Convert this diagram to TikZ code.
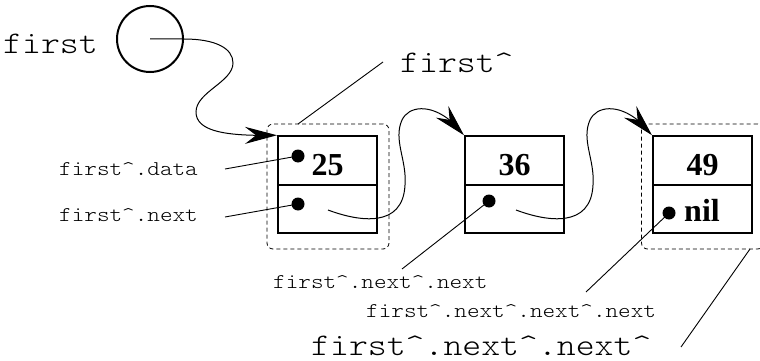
\documentclass[tikz,border=0pt]{standalone}
\usepackage{fontspec}
\setmainfont{Liberation Serif}
\newfontfamily\monofnt[FakeStretch=1.143]{Latin Modern Mono Light}
\newcommand{\crt}{\textasciicircum}
\usetikzlibrary{arrows.meta,bending}
\begin{document}
\begin{tikzpicture}[x=1pt,y=-1pt,
  cell/.style={draw, line width=2pt, minimum width=99pt, minimum height=48.5pt, inner sep=0pt},
  grp/.style={draw, dash pattern=on 4pt off 3pt, line width=0.8pt, rounded corners=6pt, minimum width=122pt, minimum height=125pt, inner sep=0pt},
  num/.style={font=\bfseries\fontsize{32}{32}\selectfont, anchor=base, inner sep=0pt},
  dot/.style={circle, fill=black, inner sep=0pt, minimum size=13pt},
  lab/.style={font=\monofnt\fontsize{21}{21}\selectfont, anchor=base west, inner sep=0pt},
  biglab/.style={font=\monofnt\fontsize{31.5}{31.5}\selectfont, anchor=base west, inner sep=0pt},
  ptr/.style={line width=1pt, -{Stealth[length=32pt,width=17pt,inset=11pt]}},
  thin/.style={line width=0.9pt}
]
\clip (0,0) rectangle (760,361);
% pointer variable
\node[circle, draw, line width=2pt, minimum size=66pt, inner sep=0pt] (c) at (150,39) {};
\node[biglab] (tfirst) at (3,53) {first};
% groups
\node[grp] (g1) at (328,186.5) {};
\node[grp] (g3) at (702.5,186.5) {};
% boxes
\node[cell] (b1t) at (327.5,160.5) {};
\node[cell] (b1b) at (327.5,209) {};
\node[cell] (b2t) at (514.5,160.5) {};
\node[cell] (b2b) at (514.5,209) {};
\node[cell] (b3t) at (702.5,160.5) {};
\node[cell] (b3b) at (702.5,209) {};
\node[num] (n25) at (327.5,175) {25};
\node[num] (n36) at (514.5,175) {36};
\node[num] (n49) at (702.5,175) {49};
\node[num, anchor=base west] (nil) at (684,221) {nil};
% dots
\node[dot] (d1) at (298,156) {};
\node[dot] (d2) at (298,204) {};
\node[dot] (d3) at (489,201) {};
\node[dot] (d4) at (669,213) {};
% labels
\node[biglab] (tfa) at (400,72) {first\crt};
\node[lab] (tdata) at (59,175) {first\crt.data};
\node[lab] (tnext) at (59,221) {first\crt.next};
\node[lab] (tnn) at (273,288) {first\crt.next\crt.next};
\node[lab] (tnnn) at (366,317) {first\crt.next\crt.next\crt.next};
\node[biglab] (tnnc) at (311,355) {first\crt.next\crt.next\crt};
% free ends of label lines
\coordinate (a1) at (225,169);
\coordinate (a2) at (225,217);
\coordinate (a3) at (383,62);
\coordinate (a3e) at (298,124);
\coordinate (a4) at (402,269);
\coordinate (a5) at (586,292);
\coordinate (a6) at (681,347);
\coordinate (a6e) at (750,249);
\draw[thin] (a1) -- (d1.center);
\draw[thin] (a2) -- (d2.center);
\draw[thin] (a3) -- (a3e);
\draw[thin] (a4) -- (d3.center);
\draw[thin] (a5) -- (d4.center);
\draw[thin] (a6) -- (a6e);
% pointers
\draw[ptr] (c.center) -- (c.east) .. controls (215,39) and (233,48) .. (233,63)
  .. controls (233,82) and (196,92) .. (196,112)
  .. controls (196,134) and (235,136) .. (b1t.north west);
\coordinate (s1) at (328,210);
\coordinate (s2) at (516,210);
\draw[ptr] (s1) .. controls (360,222) and (403,228) .. (405,185)
  .. controls (407,160) and (393,140) .. (402,120)
  .. controls (410,103) and (440,103) .. (b2t.north west);
\draw[ptr] (s2) .. controls (548,222) and (591,228) .. (593,185)
  .. controls (595,160) and (581,140) .. (590,120)
  .. controls (598,103) and (628,103) .. (b3t.north west);
\end{tikzpicture}
\end{document}
